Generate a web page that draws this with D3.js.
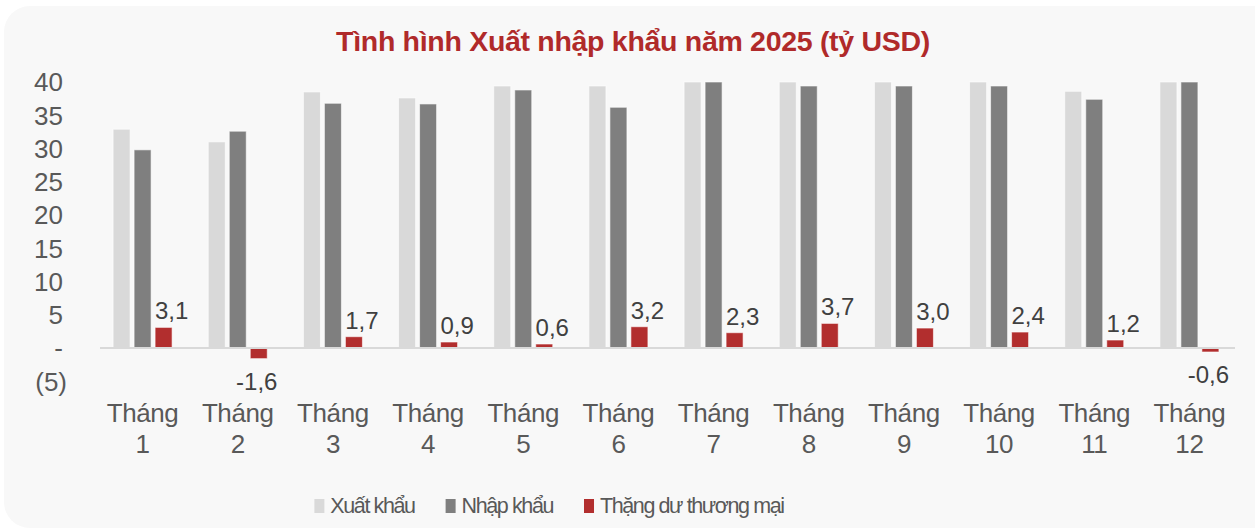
<!DOCTYPE html>
<html>
<head>
<meta charset="utf-8">
<script src="https://cdn.jsdelivr.net/npm/d3@7"></script>
<style>
  body { margin: 0; background: #fff; }
  svg { display: block; font-family: "Liberation Sans", Arial, sans-serif; }
</style>
</head>
<body>
<div id="chart"></div>
<script>
// Dữ liệu (tỷ USD), cột vượt 40 bị cắt tại trục
const months = ["Tháng 1", "Tháng 2", "Tháng 3", "Tháng 4", "Tháng 5", "Tháng 6",
                "Tháng 7", "Tháng 8", "Tháng 9", "Tháng 10", "Tháng 11", "Tháng 12"];
const xuatKhau = [32.9, 31.0, 38.5, 37.6, 39.4, 39.4, 40, 40, 40, 40, 38.6, 40];
const nhapKhau = [29.8, 32.6, 36.8, 36.7, 38.8, 36.2, 40, 39.4, 39.4, 39.4, 37.4, 40];
const thangDu  = [3.1, -1.6, 1.7, 0.9, 0.6, 3.2, 2.3, 3.7, 3.0, 2.4, 1.2, -0.6];
const yTicks = [40, 35, 30, 25, 20, 15, 10, 5, 0, -5];
const seriesNames = ["Xuất khẩu", "Nhập khẩu", "Thặng dư thương mại"];
const colors = ["#d9d9d9", "#7f7f7f", "#b22e2e"];

const width = 1255, height = 530;

const svg = d3.select("#chart")
    .append("svg")
    .attr("width", width)
    .attr("height", height);

// nền thẻ bo góc
svg.append("rect")
    .attr("x", 4).attr("y", 6)
    .attr("width", 1280).attr("height", 522)
    .attr("rx", 26)
    .attr("fill", "#f8f8f8");

svg.append("text")
    .attr("x", 633).attr("y", 51)
    .attr("text-anchor", "middle")
    .attr("font-size", 28.5)
    .attr("font-weight", "bold")
    .attr("fill", "#b02a2a")
    .attr("letter-spacing", -0.3)
    .text("Tình hình Xuất nhập khẩu năm 2025 (tỷ USD)");

const x = d3.scaleBand()
    .domain(months)
    .range([95, 1237]);

const xs = d3.scaleBand()
    .domain([0, 1, 2])
    .range([0, 59])
    .paddingInner(0.19);

const y = d3.scaleLinear()
    .domain([-5, 40])
    .range([381.25, 82]);

// trục Y
const fmt = d => d === 0 ? "-" : d < 0 ? "(" + (-d) + ")" : String(d);
svg.append("g")
    .selectAll("text")
    .data(yTicks)
    .join("text")
    .attr("x", d => d < 0 ? 67 : 63)
    .attr("y", d => y(d))
    .attr("dy", "0.36em")
    .attr("text-anchor", "end")
    .attr("font-size", 26)
    .attr("fill", "#595959")
    .text(fmt);

// cột
const rows = months.map((m, i) => [xuatKhau[i], nhapKhau[i], thangDu[i]]);
const groups = svg.append("g")
    .selectAll("g")
    .data(rows)
    .join("g")
    .attr("transform", (d, i) => `translate(${x(months[i]) + x.bandwidth() / 2 - 29.5},0)`);

groups.selectAll("rect")
    .data(d => d.map((v, k) => ({v, k})))
    .join("rect")
    .attr("x", d => xs(d.k))
    .attr("width", xs.bandwidth())
    .attr("y", d => y(Math.max(0, d.v)))
    .attr("height", d => Math.abs(y(d.v) - y(0)))
    .attr("fill", d => colors[d.k])
    .attr("stroke", "rgba(255,255,255,0.6)")
    .attr("stroke-width", 1);

// đường 0
svg.append("line")
    .attr("x1", 100).attr("x2", 1235)
    .attr("y1", y(0)).attr("y2", y(0))
    .attr("stroke", "#d9d9d9")
    .attr("stroke-width", 2);

// nhãn thặng dư
groups.append("text")
    .datum(d => d[2])
    .attr("x", d => xs(2) + xs.bandwidth() / 2 + (d >= 0 ? 8 : -2))
    .attr("y", d => d >= 0 ? y(d) - 8 : y(d) + 31)
    .attr("text-anchor", "middle")
    .attr("font-size", 24)
    .attr("fill", "#404040")
    .text(d => d.toFixed(1).replace(".", ","));

// nhãn trục X (2 dòng)
const xl = svg.append("g")
    .selectAll("text")
    .data(months)
    .join("text")
    .attr("text-anchor", "middle")
    .attr("font-size", 26)
    .attr("fill", "#595959")
    .attr("letter-spacing", -0.4);
xl.append("tspan")
    .attr("x", d => x(d) + x.bandwidth() / 2)
    .attr("y", 422)
    .text("Tháng");
xl.append("tspan")
    .attr("x", d => x(d) + x.bandwidth() / 2)
    .attr("y", 453)
    .text(d => d.split(" ")[1]);

// chú giải
const legend = svg.append("g");
let lx = 0;
seriesNames.forEach((name, k) => {
    const item = legend.append("g").attr("transform", `translate(${lx},0)`);
    item.append("rect")
        .attr("x", 0).attr("y", 499)
        .attr("width", 10).attr("height", 14)
        .attr("fill", colors[k]);
    const t = item.append("text")
        .attr("x", 16).attr("y", 513)
        .attr("font-size", 21.5)
        .attr("fill", "#595959")
        .attr("letter-spacing", -1.4)
        .text(name);
    lx += 16 + t.node().getComputedTextLength() + 31;
});
const legendW = lx - 31;
legend.attr("transform", `translate(${549 - legendW / 2},0)`);
</script>
</body>
</html>
